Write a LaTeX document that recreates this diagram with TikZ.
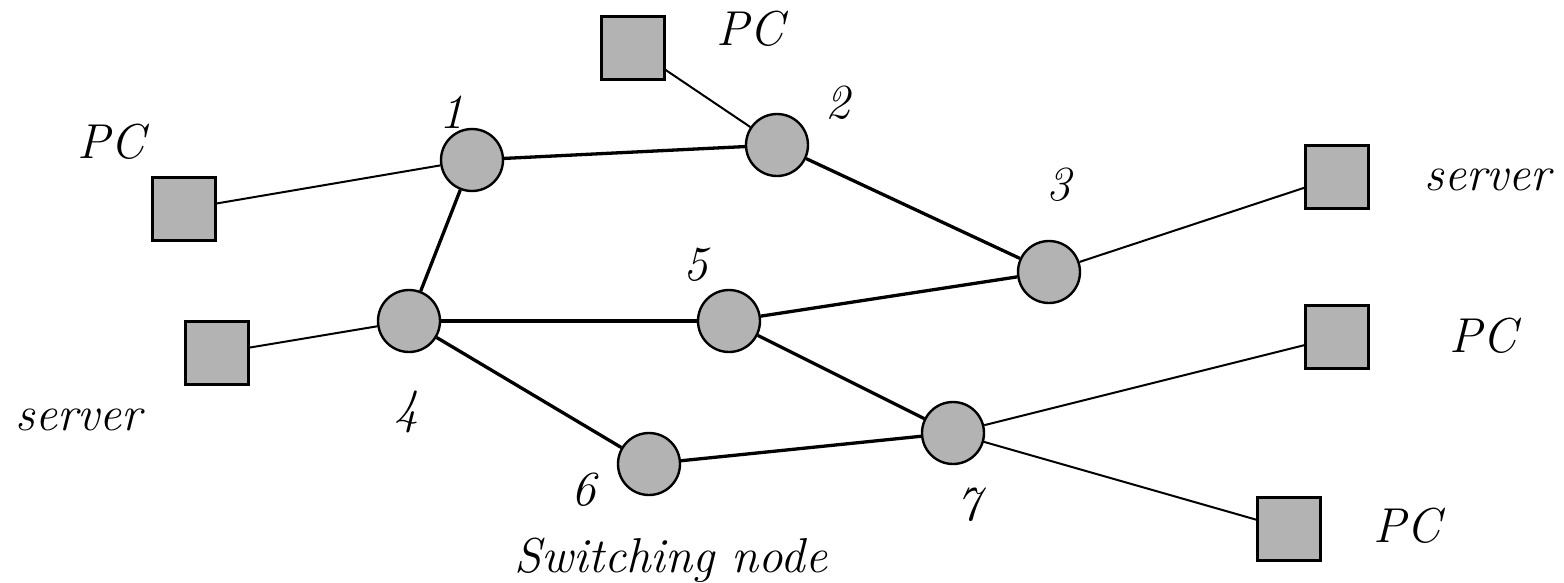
\documentclass[tikz,border=0pt]{standalone}
\begin{document}
\begin{tikzpicture}[x=1pt, y=-1pt,
  switchnode/.style={circle, draw, line width=2.4pt, fill=nodegray, minimum size=62pt, inner sep=0pt},
  station/.style={rectangle, draw, line width=2.4pt, fill=nodegray, minimum size=63pt, inner sep=0pt},
  trunk/.style={line width=3.3pt},
  access/.style={line width=2pt},
  lbl/.style={anchor=base, inner sep=0pt, font=\fontsize{49}{56}\selectfont\itshape}
]
\definecolor{nodegray}{RGB}{179,179,179}
\useasboundingbox (0,0) rectangle (1564,582);

% switching nodes
\node[switchnode] (n1) at (472,160) {};
\node[switchnode] (n2) at (777,145) {};
\node[switchnode] (n3) at (1049,272) {};
\node[switchnode] (n4) at (409,321) {};
\node[switchnode] (n5) at (729,321) {};
\node[switchnode] (n6) at (649,464) {};
\node[switchnode] (n7) at (953,433) {};

% attached stations
\node[station] (pctop) at (633,48) {};
\node[station] (pcleft) at (184,209) {};
\node[station] (srvleft) at (217,353) {};
\node[station] (srvright) at (1337,177) {};
\node[station] (pcright) at (1337,337) {};
\node[station] (pcbottom) at (1289,529) {};

% links between switching nodes
\draw[trunk] (n1) -- (n2);
\draw[trunk] (n2) -- (n3);
\draw[trunk] (n1) -- (n4);
\draw[trunk] (n4) -- (n5);
\draw[trunk] (n5) -- (n3);
\draw[trunk] (n4) -- (n6);
\draw[trunk] (n5) -- (n7);
\draw[trunk] (n6) -- (n7);

% access links
\draw[access] (pctop) -- (n2);
\draw[access] (pcleft) -- (n1);
\draw[access] (srvleft) -- (n4);
\draw[access] (srvright) -- (n3);
\draw[access] (pcright) -- (n7);
\draw[access] (pcbottom) -- (n7);

% labels
\node[lbl] (t1) at (452,128) {1};
\node[lbl] (t2) at (838,118) {2};
\node[lbl] (t3) at (1059,200) {3};
\node[lbl] (t4) at (407,423) {4};
\node[lbl] (t5) at (696,280) {5};
\node[lbl] (t6) at (584,505) {6};
\node[lbl] (t7) at (969,520) {7};
\node[lbl] (lpctop) at (750,45) {PC};
\node[lbl] (lpcleft) at (111,158) {PC};
\node[lbl] (lsrvleft) at (79,430) {server};
\node[lbl] (lsrvright) at (1488,190) {server};
\node[lbl] (lpcright) at (1483,352) {PC};
\node[lbl] (lpcbottom) at (1407,542) {PC};
\node[lbl] (lswitch) at (671,572) {Switching node};
\end{tikzpicture}
\end{document}
